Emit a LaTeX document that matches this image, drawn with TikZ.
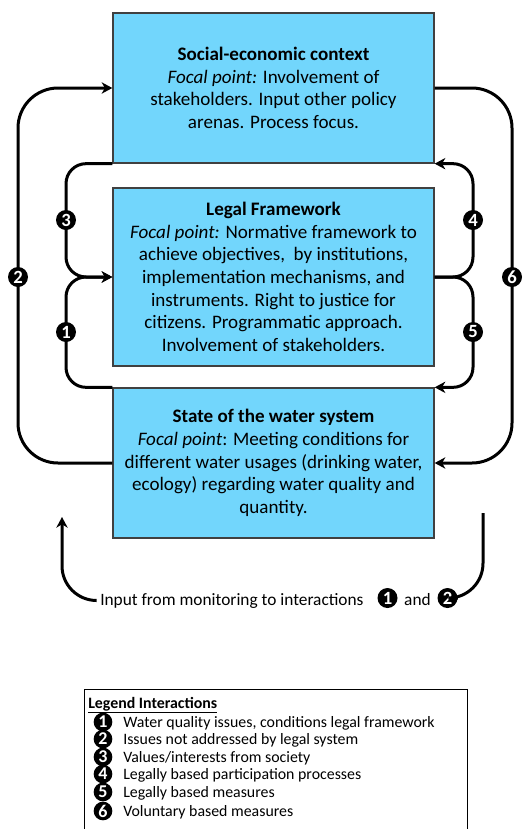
\documentclass[tikz,border=0pt]{standalone}
\usepackage{fontspec}
\setmainfont{Carlito}
\usetikzlibrary{arrows.meta}
\definecolor{boxblue}{RGB}{114,214,252}
\begin{document}
\begin{tikzpicture}[x=0.75pt,y=-0.75pt,
 box/.style={draw=black!75, line width=1pt, fill=boxblue, minimum width=240.75pt, align=center, font=\fontsize{14.3}{17}\selectfont, inner sep=0pt},
 conn/.style={line width=2.25pt, -{Stealth[length=8pt,width=8.5pt,inset=2.5pt]}},
 plain/.style={line width=2.25pt},
 num/.style={circle, fill=black, text=white, inner sep=0pt, minimum size=15pt, font=\bfseries\fontsize{14}{14}\selectfont},
 lnum/.style={num, minimum size=14pt, font=\bfseries\fontsize{13.5}{13.5}\selectfont},
 legtext/.style={anchor=base west, inner sep=0pt, font=\fontsize{11.9}{13}\selectfont}]
\useasboundingbox (0,0) rectangle (530,829);

% boxes
\node[box, minimum height=112.5pt] (top) at (273.5,88) {\textbf{Social-economic context}\\ \textit{Focal point:} Involvement of\\ stakeholders. Input other policy\\ arenas. Process focus.};
\node[box, minimum height=133.5pt] (mid) at (273.5,277) {\textbf{Legal Framework}\\ \textit{Focal point:} Normative framework to\\ achieve objectives,\ \ by institutions,\\ implementation mechanisms, and\\ instruments. Right to justice for\\ citizens. Programmatic approach.\\ Involvement of stakeholders.};
\node[box, minimum height=112.5pt] (bot) at (273.5,463) {\textbf{State of the water system}\\ \textit{Focal point}: Meeting conditions for\\ different water usages (drinking water,\\ ecology) regarding water quality and\\ quantity.};

% guide coordinates
\coordinate (L2) at (18,0);
\coordinate (L3) at (66,0);
\coordinate (R4) at (473,0);
\coordinate (R6) at (512,0);

% loops
\draw[conn, rounded corners=30pt] (bot.west) -- (bot.west -| L2) -- (top.west -| L2) -- (top.west);
\draw[conn, rounded corners=30pt] (top.east) -- (top.east -| R6) -- (bot.east -| R6) -- (bot.east);
\draw[conn, rounded corners=15pt] (top.south west) -- (top.south west -| L3) -- (mid.west -| L3) -- (mid.west);
\draw[conn, rounded corners=15pt] (bot.north west) -- (bot.north west -| L3) -- (mid.west -| L3) -- (mid.west);
\draw[conn, rounded corners=15pt] (mid.east) -- (mid.east -| R4) -- (top.south east -| R4) -- (top.south east);
\draw[conn, rounded corners=15pt] (mid.east) -- (mid.east -| R4) -- (bot.north east -| R4) -- (bot.north east);

% interaction labels
\node[num] (c3) at (66,220) {3};
\node[num] (c1) at (66,332) {1};
\node[num] (c2) at (18,277) {2};
\node[num] (c4) at (473,220) {4};
\node[num] (c5) at (473,332) {5};
\node[num] (c6) at (512,277) {6};

% monitoring
\node[anchor=base west, inner sep=0pt, font=\fontsize{13}{15}\selectfont] (mon) at (100,605) {Input from monitoring to interactions};
\node[num] (m1) at (387.5,598) {1};
\node[anchor=base, inner sep=0pt, font=\fontsize{13}{15}\selectfont] (and) at (417.5,605) {and};
\node[num] (m2) at (447.5,598) {2};
\coordinate (RM) at (483,513);
\coordinate (LM) at (62,517);
\draw[plain, rounded corners=26pt] (m2.east) -| (RM);
\draw[conn, rounded corners=26pt] ([xshift=-3pt]mon.west) -| (LM);

% legend
\node[draw=black, line width=0.9pt, anchor=north west, minimum width=287.25pt, minimum height=112.5pt, inner sep=0pt] (leg) at (84,689) {};
\node[legtext] (lt) at (88,708) {\textbf{\underline{Legend Interactions}}};
\node[lnum] (l1) at (103,722) {1};
\node[legtext] (t1) at (123,727) {Water quality issues, conditions legal framework};
\node[lnum] (l2) at (103,739) {2};
\node[legtext] (t2) at (123,744) {Issues not addressed by legal system};
\node[lnum] (l3) at (103,757) {3};
\node[legtext] (t3) at (123,762) {Values/interests from society};
\node[lnum] (l4) at (103,774) {4};
\node[legtext] (t4) at (123,779) {Legally based participation processes};
\node[lnum] (l5) at (103,792) {5};
\node[legtext] (t5) at (123,797) {Legally based measures};
\node[lnum] (l6) at (103,811) {6};
\node[legtext] (t6) at (123,816) {Voluntary based measures};
\end{tikzpicture}
\end{document}
